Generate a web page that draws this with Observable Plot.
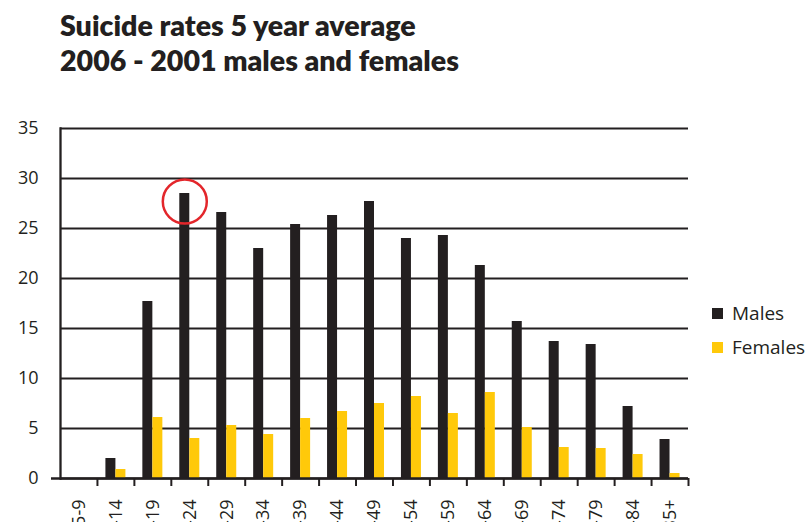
<!DOCTYPE html>
<html>
<head>
<meta charset="utf-8">
<script src="https://cdn.jsdelivr.net/npm/d3@7"></script>
<script src="https://cdn.jsdelivr.net/npm/@observablehq/plot@0.6"></script>
<style>
  html, body { margin: 0; padding: 0; background: #fff; overflow: hidden; width: 808px; height: 522px; }
  #wrap { position: relative; width: 808px; height: 522px; }
  #title { position: absolute; left: 60px; top: 8px; font-family: Lato, sans-serif; font-weight: 800;
           font-size: 28.6px; line-height: 35px; color: #231f20; white-space: nowrap; }
  #chart { position: absolute; left: 0; top: 95px; }
  #legend { position: absolute; left: 712px; top: 296px; font-family: "Open Sans", sans-serif;
            font-size: 19px; color: #231f20; }
  .item { display: flex; align-items: center; height: 34px; }
  .swatch { width: 11px; height: 11px; margin-right: 9px; }
</style>
</head>
<body>
<div id="wrap">
  <div id="title">Suicide rates 5 year average<br>2006 - 2001 males and females</div>
  <div id="chart"></div>
  <div id="legend"></div>
</div>
<script>
// Age bands (years)
const ages = ["5-9", "10-14", "15-19", "20-24", "25-29", "30-34", "35-39", "40-44",
              "45-49", "50-54", "55-59", "60-64", "65-69", "70-74", "75-79", "80-84", "85+"];
// Suicide rate per 100,000, five-year average
const males   = [null, 2.0, 17.7, 28.5, 26.6, 23.0, 25.4, 26.3, 27.7, 24.0, 24.3, 21.3, 15.7, 13.7, 13.4, 7.2, 3.9];
const females = [null, 0.9, 6.1, 4.0, 5.3, 4.4, 6.0, 6.7, 7.5, 8.2, 6.5, 8.6, 5.1, 3.1, 3.0, 2.4, 0.5];
const series = ["Males", "Females"];
const colors = ["#231f20", "#ffc90a"];
const yTicks = [0, 5, 10, 15, 20, 25, 30, 35];
// Peak male rate, ringed in red
const highlight = [{age: "20-24", value: 28.5}];

const rows = ages.map((age, i) => ({age, males: males[i], females: females[i]}));

const W = 808, mL = 60, mR = 120;
const bw = (W - mL - mR) / ages.length;   // band width
const barW = 10;
const ink = "#231f20";

const chart = Plot.plot({
  width: W,
  height: 445,
  marginLeft: mL,
  marginRight: mR,
  marginTop: 33,
  marginBottom: 62,
  style: {fontFamily: "'Open Sans', sans-serif", fontSize: "18px", color: ink, background: "transparent"},
  x: {domain: ages, padding: 0, round: false, axis: null},
  y: {domain: [0, 35], axis: null},
  marks: [
    Plot.gridY(yTicks, {stroke: ink, strokeOpacity: 1, strokeWidth: 2}),
    Plot.barY(rows, {x: "age", y: "males", fill: colors[0], insetLeft: bw / 2 - barW, insetRight: bw / 2}),
    Plot.barY(rows, {x: "age", y: "females", fill: colors[1], insetLeft: bw / 2, insetRight: bw / 2 - barW}),
    // left axis line
    Plot.frame({anchor: "left", stroke: ink, strokeWidth: 2.3}),
    // baseline, extended a little past the left axis
    Plot.ruleY([0], {stroke: ink, strokeWidth: 2.5, insetLeft: -9}),
    // tick marks at the right edge of each band
    Plot.axisX(ages, {tickSize: 8, text: null, dx: bw / 2, stroke: ink, strokeWidth: 2, strokeOpacity: 1}),
    Plot.axisX(ages, {tickSize: 0, tickPadding: 21, tickRotate: -90, fontSize: 18, fill: ink}),
    Plot.axisY(yTicks, {tickSize: 0, tickPadding: 22, fontSize: 18, fill: ink}),
    Plot.dot(highlight, {x: "age", y: "value", dx: -barW / 2, dy: 8, r: 22,
                         stroke: "#e3262b", strokeWidth: 2.5, fill: "none"})
  ]
});
document.getElementById("chart").append(chart);

const legend = document.getElementById("legend");
series.forEach((name, i) => {
  const item = document.createElement("div");
  item.className = "item";
  const sw = document.createElement("span");
  sw.className = "swatch";
  sw.style.background = colors[i];
  const label = document.createElement("span");
  label.textContent = name;
  item.append(sw, label);
  legend.append(item);
});
</script>
</body>
</html>
